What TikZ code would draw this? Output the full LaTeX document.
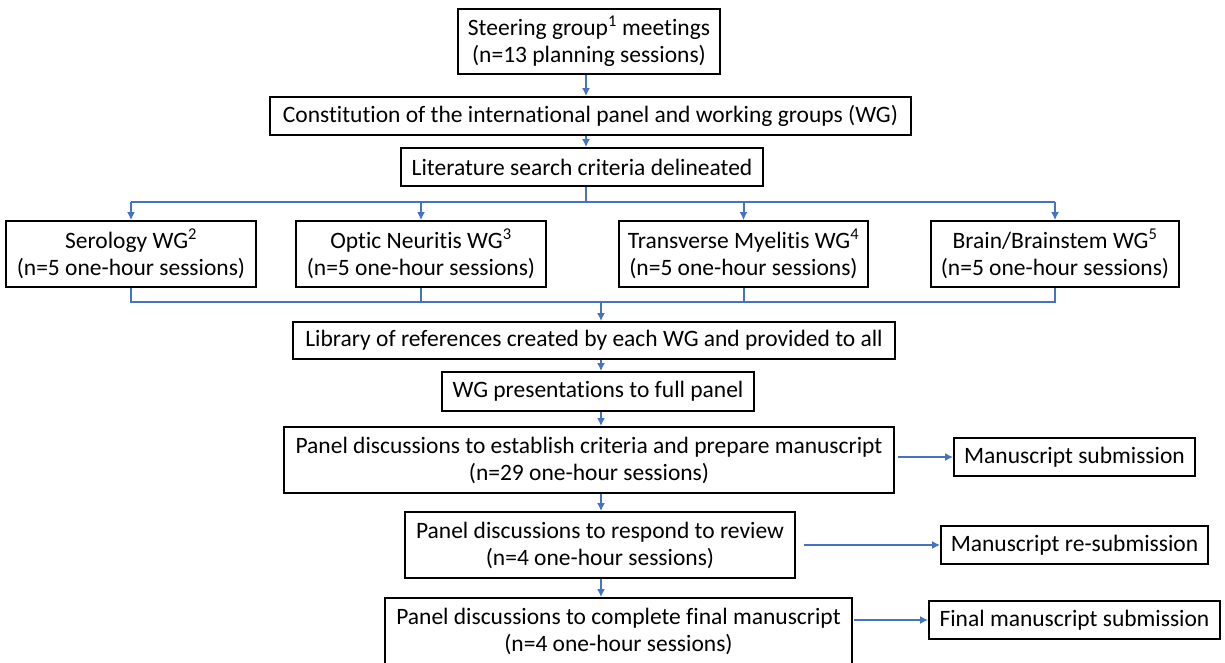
\documentclass[tikz,border=0pt]{standalone}
\usepackage{fontspec}
\setmainfont{Carlito}[Ligatures=NoCommon]
\usetikzlibrary{arrows.meta,calc}
\definecolor{conn}{HTML}{4472C4}
\tikzset{
  box/.style={draw=black, line width=1.8pt, inner sep=0pt, align=center,
    font=\fontsize{23.5}{27}\selectfont},
  conline/.style={draw=conn, line width=2pt},
  varr/.style={conline, -{Latex[length=8pt,width=8pt]}},
  harr/.style={draw=conn, line width=2.6pt, -{Latex[length=8pt,width=8pt]}}
}
\begin{document}
\begin{tikzpicture}[x=1pt,y=-1pt]
\useasboundingbox (0,0) rectangle (1225,662);
\node[box, minimum width=262pt, minimum height=65pt] (steer) at (589,41.5)
  {Steering group\textsuperscript{1} meetings\\(n=13 planning sessions)};
\node[box, minimum width=641pt, minimum height=38pt] (const) at (590.5,116)
  {Constitution of the international panel and working groups (WG)};
\node[box, minimum width=362pt, minimum height=38pt] (lit) at (582,167)
  {Literature search criteria delineated};
\node[box, minimum width=250pt, minimum height=66pt] (sero) at (131,254)
  {Serology WG\textsuperscript{2}\\(n=5 one-hour sessions)};
\node[box, minimum width=250pt, minimum height=66pt] (optic) at (421,254)
  {Optic Neuritis WG\textsuperscript{3}\\(n=5 one-hour sessions)};
\node[box, minimum width=249pt, minimum height=66pt] (tm) at (743.5,254)
  {Transverse Myelitis WG\textsuperscript{4}\\(n=5 one-hour sessions)};
\node[box, minimum width=248pt, minimum height=66pt] (brain) at (1055,254)
  {Brain/Brainstem WG\textsuperscript{5}\\(n=5 one-hour sessions)};
\node[box, minimum width=602pt, minimum height=37pt] (lib) at (594,340.5)
  {Library of references created by each WG and provided to all};
\node[box, minimum width=312pt, minimum height=39pt] (wgp) at (598,391.5)
  {WG presentations to full panel};
\node[box, minimum width=610pt, minimum height=66pt] (p1) at (589,460)
  {Panel discussions to establish criteria and prepare manuscript\\(n=29 one-hour sessions)};
\node[box, minimum width=390pt, minimum height=66pt] (p2) at (600,545)
  {Panel discussions to respond to review\\(n=4 one-hour sessions)};
\node[box, minimum width=467pt, minimum height=66pt] (p3) at (618.5,631)
  {Panel discussions to complete final manuscript\\(n=4 one-hour sessions)};
\node[box, minimum width=241pt, minimum height=38pt] (ms) at (1074.5,457)
  {Manuscript submission};
\node[box, minimum width=267pt, minimum height=38pt] (rs) at (1074.5,545)
  {Manuscript re-submission};
\node[box, minimum width=291pt, minimum height=38pt] (fs) at (1074.5,620)
  {Final manuscript submission};
\coordinate (ax) at (586,0);
\coordinate (bx) at (601,0);
\coordinate (brY) at (0,202);
\coordinate (mY) at (0,302);
% top chain
\draw[varr] (steer.south -| ax) -- (const.north -| ax);
\draw[varr] (const.south -| ax) -- (lit.north -| ax);
% branch
\draw[conline] (lit.south -| ax) -- (ax |- brY);
\draw[conline] (sero.north |- brY) -- (brain.north |- brY);
\foreach \n in {sero,optic,tm,brain}
  \draw[varr] (\n.north |- brY) -- (\n.north);
% merge
\draw[conline] (sero.south) -- (sero.south |- mY) -- (brain.south |- mY) -- (brain.south);
\draw[conline] (optic.south) -- (optic.south |- mY);
\draw[conline] (tm.south) -- (tm.south |- mY);
\draw[varr] (bx |- mY) -- (lib.north -| bx);
% lower chain
\draw[varr] (lib.south -| bx) -- (wgp.north -| bx);
\draw[varr] (wgp.south -| bx) -- (p1.north -| bx);
\draw[varr] (p1.south -| bx) -- (p2.north -| bx);
\draw[varr] (p2.south -| bx) -- (p3.north -| bx);
% side arrows
\draw[harr] ([xshift=3pt]p1.east |- ms.west) -- (ms.west);
\draw[harr] ([xshift=8pt]p2.east |- rs.west) -- (rs.west);
\draw[harr] ([xshift=1pt]p3.east |- fs.west) -- (fs.west);
\end{tikzpicture}
\end{document}
